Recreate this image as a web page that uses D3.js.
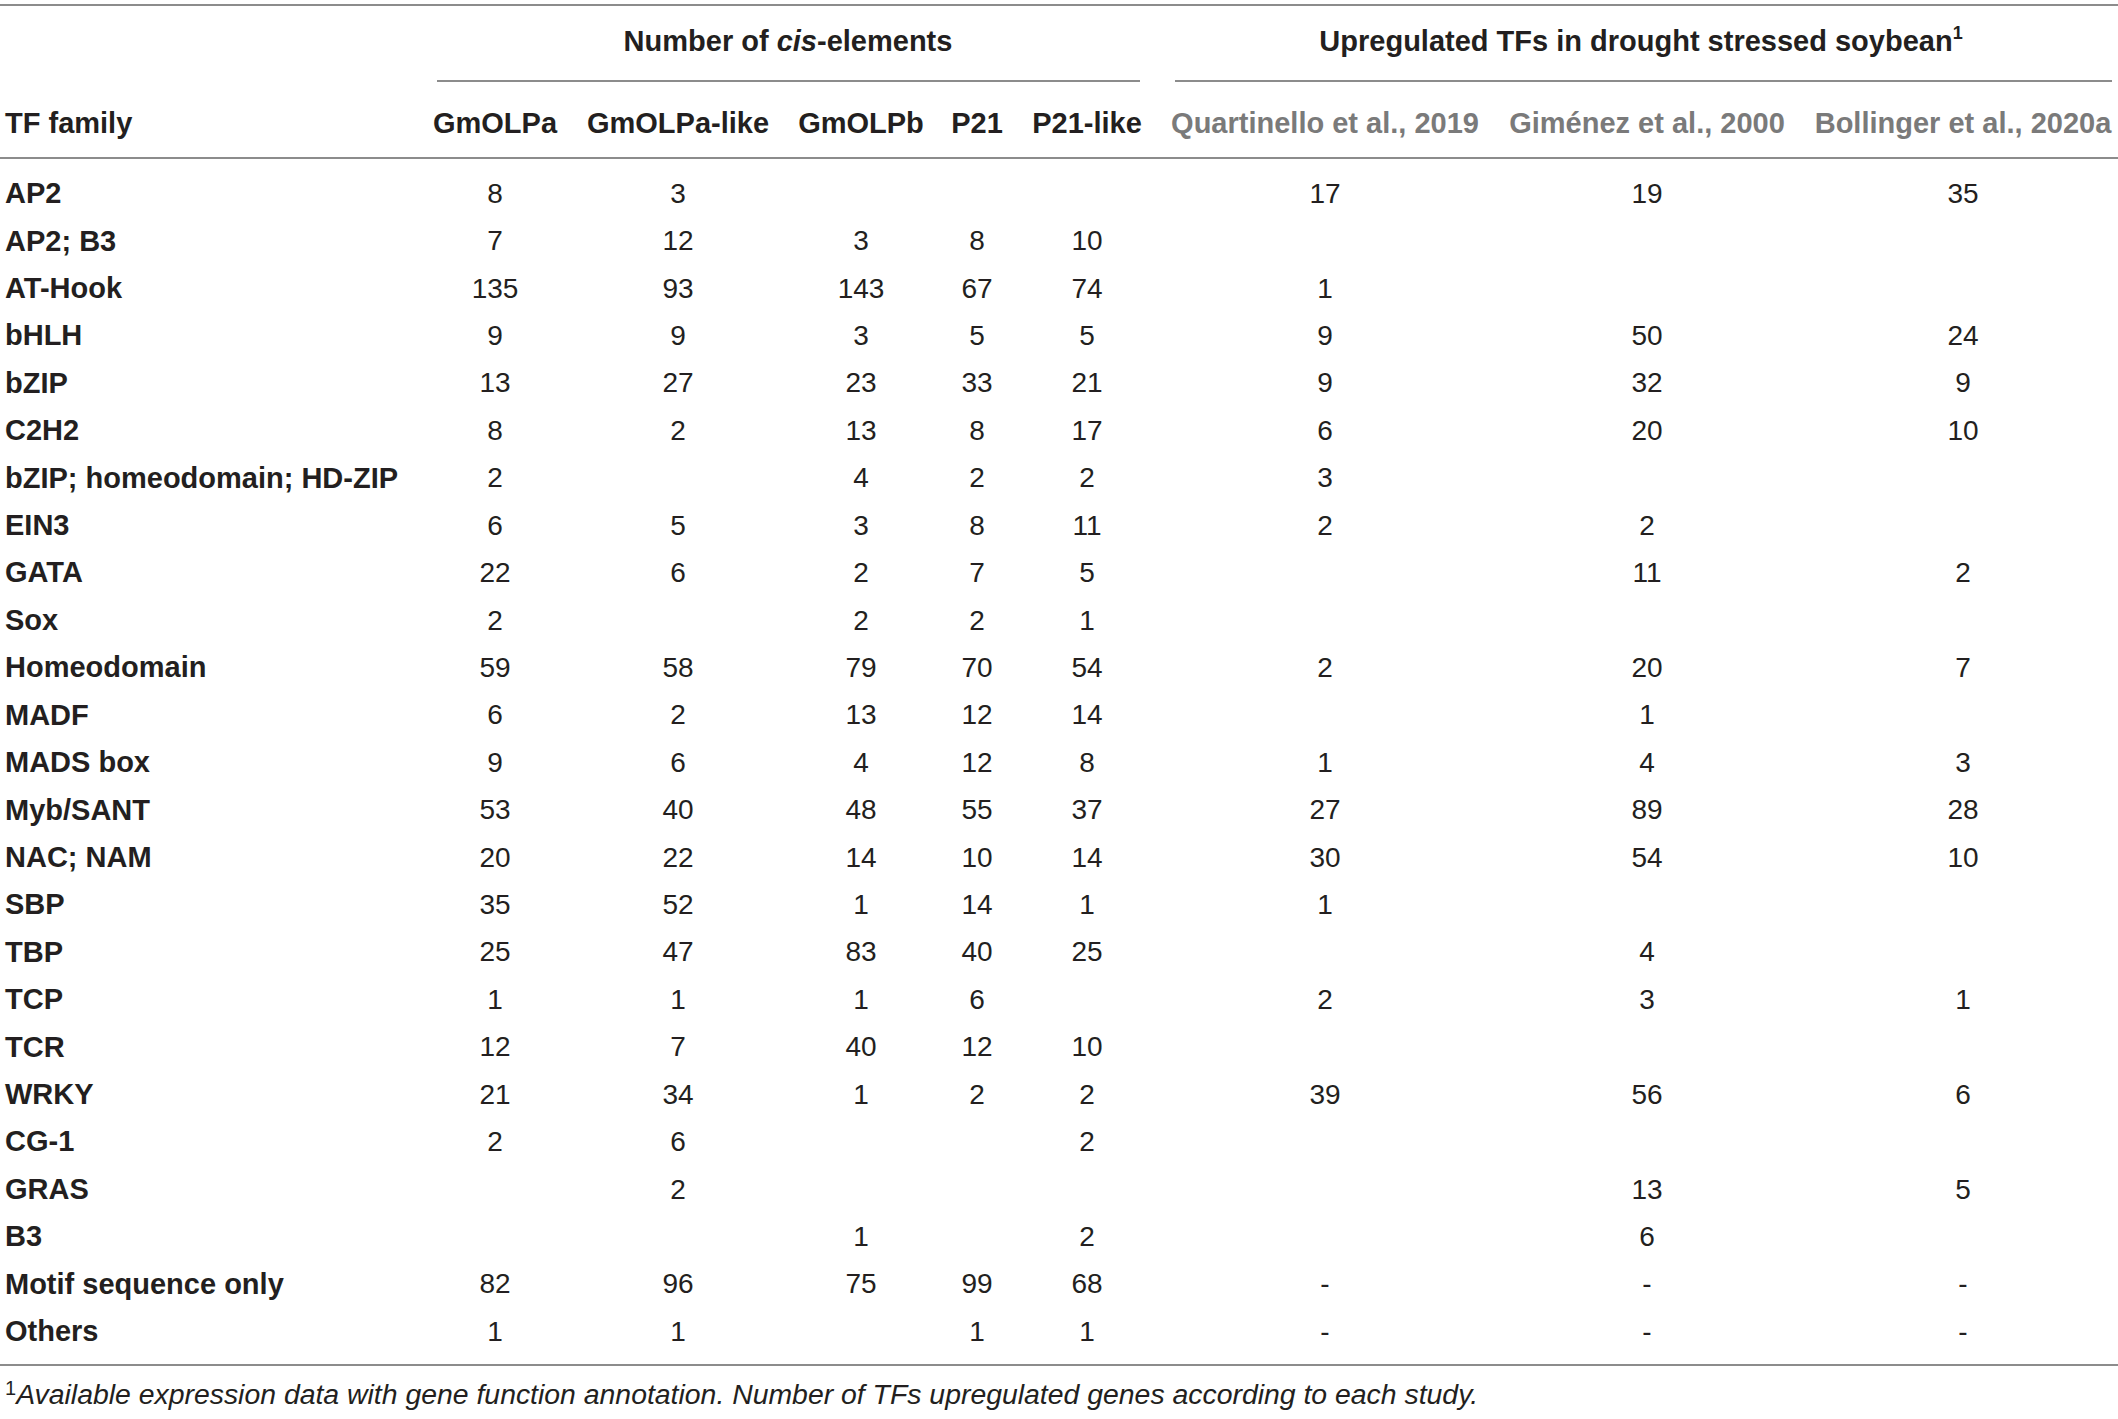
<!DOCTYPE html>
<html>
<head>
<meta charset="utf-8">
<script src="https://cdn.jsdelivr.net/npm/d3@7"></script>
<style>
  body { margin: 0; background: #fff; }
  svg text { font-family: "Liberation Sans", Arial, sans-serif; }
</style>
</head>
<body>
<div id="chart"></div>
<script>
const width = 2118;
const height = 1419;

// 行标签
const families = [
  "AP2", "AP2; B3", "AT-Hook", "bHLH", "bZIP", "C2H2",
  "bZIP; homeodomain; HD-ZIP", "EIN3", "GATA", "Sox", "Homeodomain",
  "MADF", "MADS box", "Myb/SANT", "NAC; NAM", "SBP", "TBP", "TCP",
  "TCR", "WRKY", "CG-1", "GRAS", "B3", "Motif sequence only", "Others"
];

// 列标题
const cisColumns = ["GmOLPa", "GmOLPa-like", "GmOLPb", "P21", "P21-like"];
const studyColumns = ["Quartinello et al., 2019", "Giménez et al., 2000", "Bollinger et al., 2020a"];

// 每列数据 (null = 空格)
const gmOLPa     = [8, 7, 135, 9, 13, 8, 2, 6, 22, 2, 59, 6, 9, 53, 20, 35, 25, 1, 12, 21, 2, null, null, 82, 1];
const gmOLPaLike = [3, 12, 93, 9, 27, 2, null, 5, 6, null, 58, 2, 6, 40, 22, 52, 47, 1, 7, 34, 6, 2, null, 96, 1];
const gmOLPb     = [null, 3, 143, 3, 23, 13, 4, 3, 2, 2, 79, 13, 4, 48, 14, 1, 83, 1, 40, 1, null, null, 1, 75, null];
const p21        = [null, 8, 67, 5, 33, 8, 2, 8, 7, 2, 70, 12, 12, 55, 10, 14, 40, 6, 12, 2, null, null, null, 99, 1];
const p21Like    = [null, 10, 74, 5, 21, 17, 2, 11, 5, 1, 54, 14, 8, 37, 14, 1, 25, null, 10, 2, 2, null, 2, 68, 1];
const quartinello = [17, null, 1, 9, 9, 6, 3, 2, null, null, 2, null, 1, 27, 30, 1, null, 2, null, 39, null, null, null, "-", "-"];
const gimenez     = [19, null, null, 50, 32, 20, null, 2, 11, null, 20, 1, 4, 89, 54, null, 4, 3, null, 56, null, 13, 6, "-", "-"];
const bollinger   = [35, null, null, 24, 9, 10, null, null, 2, null, 7, null, 3, 28, 10, null, null, 1, null, 6, null, 5, null, "-", "-"];

const columnValues = [gmOLPa, gmOLPaLike, gmOLPb, p21, p21Like, quartinello, gimenez, bollinger];
const allColumns = cisColumns.concat(studyColumns);

const svg = d3.select("#chart").append("svg")
  .attr("width", width)
  .attr("height", height);

// 比例尺
const x = d3.scaleOrdinal()
  .domain(allColumns)
  .range([495, 678, 861, 977, 1087, 1325, 1647, 1963]);

const y = d3.scalePoint()
  .domain(families)
  .range([193, 1331]);

const ink = "#231f20";
const grey = "#7a7a7a";
const ruleColor = "#8c8c8c";
const boldSize = 29;

// 横线
const rules = [
  { x1: 0, x2: 2118, y: 5 },
  { x1: 437, x2: 1140, y: 81 },
  { x1: 1175, x2: 2112, y: 81 },
  { x1: 0, x2: 2118, y: 158 },
  { x1: 0, x2: 2118, y: 1365 }
];
svg.append("g")
  .selectAll("line")
  .data(rules)
  .enter().append("line")
  .attr("x1", d => d.x1)
  .attr("x2", d => d.x2)
  .attr("y1", d => d.y)
  .attr("y2", d => d.y)
  .attr("stroke", ruleColor)
  .attr("stroke-width", 2);

// 组标题
const g1 = svg.append("text")
  .attr("x", 788)
  .attr("y", 41)
  .attr("dy", "0.35em")
  .attr("text-anchor", "middle")
  .attr("font-size", boldSize)
  .attr("font-weight", "bold")
  .attr("fill", ink);
g1.append("tspan").text("Number of ");
g1.append("tspan").attr("font-style", "italic").text("cis");
g1.append("tspan").text("-elements");

const g2 = svg.append("text")
  .attr("x", 1641)
  .attr("y", 41)
  .attr("dy", "0.35em")
  .attr("text-anchor", "middle")
  .attr("font-size", boldSize)
  .attr("font-weight", "bold")
  .attr("fill", ink);
g2.append("tspan").text("Upregulated TFs in drought stressed soybean");
g2.append("tspan").attr("font-size", 18).attr("dy", "-0.7em").text("1");

// 列标题
svg.append("text")
  .attr("x", 5)
  .attr("y", 123)
  .attr("dy", "0.35em")
  .attr("font-size", boldSize)
  .attr("font-weight", "bold")
  .attr("fill", ink)
  .text("TF family");

svg.append("g")
  .selectAll("text")
  .data(allColumns)
  .enter().append("text")
  .attr("x", d => x(d))
  .attr("y", 123)
  .attr("dy", "0.35em")
  .attr("text-anchor", "middle")
  .attr("font-size", boldSize)
  .attr("font-weight", "bold")
  .attr("fill", d => cisColumns.includes(d) ? ink : grey)
  .text(d => d);

// 行标签
svg.append("g")
  .selectAll("text")
  .data(families)
  .enter().append("text")
  .attr("x", 5)
  .attr("y", d => y(d))
  .attr("dy", "0.35em")
  .attr("font-size", boldSize)
  .attr("font-weight", "bold")
  .attr("fill", ink)
  .text(d => d);

// 数值
const cells = [];
allColumns.forEach((col, ci) => {
  columnValues[ci].forEach((v, ri) => {
    if (v !== null) cells.push({ col: col, family: families[ri], value: v });
  });
});

svg.append("g")
  .selectAll("text")
  .data(cells)
  .enter().append("text")
  .attr("x", d => x(d.col))
  .attr("y", d => y(d.family))
  .attr("dy", "0.35em")
  .attr("text-anchor", "middle")
  .attr("font-family", "Roboto, 'Liberation Sans', sans-serif")
  .attr("font-weight", 300)
  .attr("font-size", 28)
  .attr("fill", ink)
  .text(d => d.value);

// 脚注
const foot = svg.append("text")
  .attr("x", 5)
  .attr("y", 1404)
  .attr("dy", "0.35em")
  .attr("font-family", "Roboto, 'Liberation Sans', sans-serif")
  .attr("font-weight", 300)
  .attr("font-size", 28.4)
  .attr("font-style", "italic")
  .attr("fill", ink);
foot.append("tspan").attr("font-style", "normal").attr("font-size", 20).attr("dy", "-0.45em").text("1");
foot.append("tspan").attr("dy", "0.3em").text("Available expression data with gene function annotation. Number of TFs upregulated genes according to each study.");
</script>
</body>
</html>
